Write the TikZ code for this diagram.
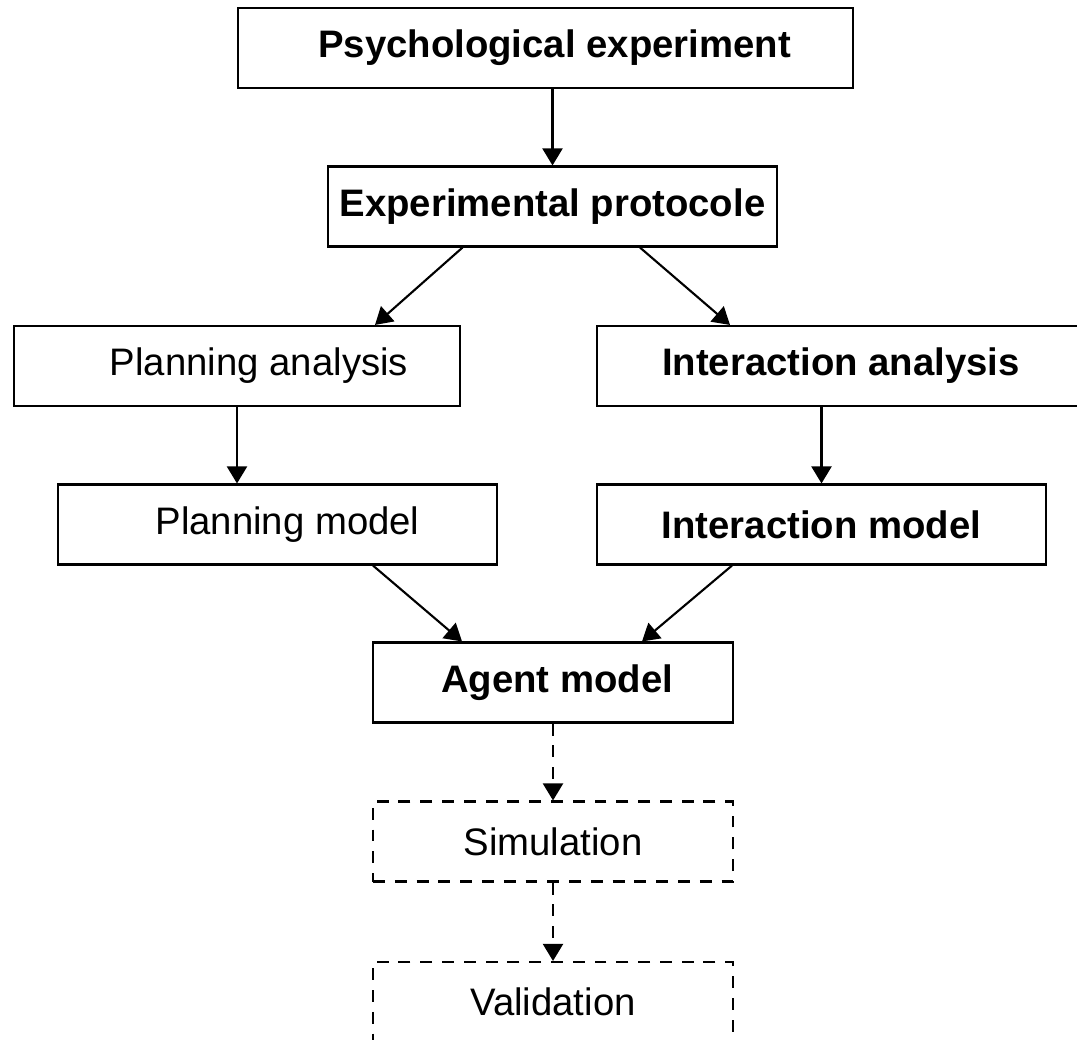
\documentclass[tikz,border=0pt]{standalone}
\usepackage{fontspec}
\setmainfont{Liberation Sans}
\usetikzlibrary{arrows, arrows.meta}

\begin{document}
\begin{tikzpicture}[
    stagebox/.style={draw, line width=0.6pt, minimum height=0.8cm, inner sep=0pt, font=\fontsize{10.9}{13}\selectfont},
    boldbox/.style={stagebox, font=\fontsize{10.9}{13}\selectfont\bfseries},
    planbox/.style={stagebox, dash pattern=on 3.4pt off 2.8pt},
    arr/.style={line width=0.6pt, -{Triangle[length=1.7mm, width=2mm]}},
    dasharr/.style={arr, dash pattern=on 3.4pt off 2.8pt}
  ]
    \useasboundingbox (0,0) rectangle (10.77,-10.39);

    \node[boldbox, minimum width=6.15cm] (psych) at (5.455,-0.48) {\hspace*{0.18cm}Psychological experiment};
    \node[boldbox, minimum width=4.49cm] (exp) at (5.525,-2.065) {Experimental protocole};
    \node[stagebox, minimum width=4.46cm] (plana) at (2.37,-3.66) {\hspace*{0.44cm}Planning analysis};
    \node[boldbox, minimum width=4.88cm] (inta) at (8.41,-3.66) {Interaction analysis};
    \node[stagebox, minimum width=4.39cm] (planm) at (2.775,-5.245) {\hspace*{0.2cm}Planning model};
    \node[boldbox, minimum width=4.49cm] (intm) at (8.215,-5.245) {Interaction model};
    \node[boldbox, minimum width=3.6cm] (agent) at (5.53,-6.825) {\hspace*{0.08cm}Agent model};
    \node[planbox, minimum width=3.6cm] (sim) at (5.53,-8.415) {Simulation};
    \node[planbox, minimum width=3.6cm] (val) at (5.53,-10.02) {Validation};

    \draw[arr] (exp.north |- psych.south) -- (exp.north);
    \draw[arr] ([xshift=-0.9cm]exp.south) -- ([xshift=1.38cm]plana.north);
    \draw[arr] ([xshift=0.875cm]exp.south) -- ([xshift=-1.11cm]inta.north);
    \draw[arr] (plana.south) -- (plana.south |- planm.north);
    \draw[arr] (intm.north |- inta.south) -- (intm.north);
    \draw[arr] ([xshift=0.955cm]planm.south) -- ([xshift=-0.91cm]agent.north);
    \draw[arr] ([xshift=-0.895cm]intm.south) -- ([xshift=0.89cm]agent.north);
    \draw[dasharr] (agent) -- (sim);
    \draw[dasharr] (sim) -- (val);
  \end{tikzpicture}
\end{document}
